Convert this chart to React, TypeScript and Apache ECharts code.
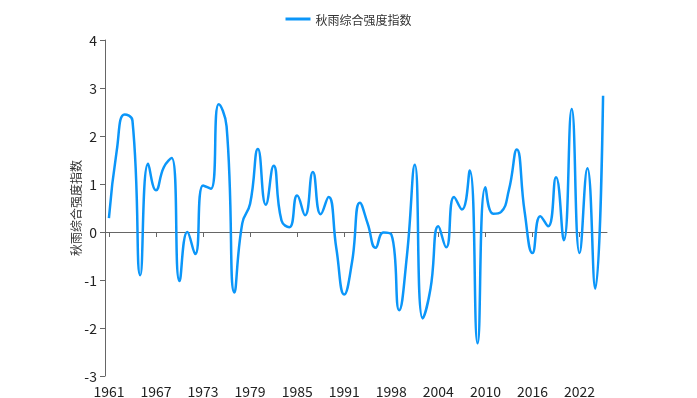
import React, { useEffect, useRef } from "react";
import * as echarts from "echarts";

const years: string[] = [
  "1961", "1962", "1963", "1964", "1965", "1966", "1967", "1968", "1969", "1970",
  "1971", "1972", "1973", "1974", "1975", "1976", "1977", "1978", "1979", "1980",
  "1981", "1982", "1983", "1984", "1985", "1986", "1987", "1988", "1989", "1990",
  "1991", "1992", "1993", "1995", "1996", "1997", "1998", "1999", "2000", "2001",
  "2002", "2003", "2004", "2005", "2006", "2007", "2008", "2009", "2010", "2011",
  "2012", "2013", "2014", "2015", "2016", "2017", "2018", "2019", "2020", "2021",
  "2022", "2023", "2024", "2025",
];

const rainIndex: number[] = [
  0.29, 1.7, 2.45, 2.32, -0.9, 1.42, 0.87, 1.35, 1.54, -1.02,
  0.0, -0.46, 0.97, 0.9, 2.66, 2.2, -1.26, 0.18, 0.59, 1.73,
  0.57, 1.38, 0.24, 0.1, 0.76, 0.35, 1.25, 0.37, 0.73, -0.35,
  -1.3, -0.62, 0.61, 0.17, -0.33, -0.01, -0.05, -1.63, -0.48, 1.4,
  -1.8, -1.18, 0.12, -0.32, 0.73, 0.47, 1.28, -2.32, 0.93, 0.38,
  0.42, 0.88, 1.72, 0.42, -0.44, 0.33, 0.12, 1.14, -0.17, 2.56,
  -0.44, 1.33, -1.18, 2.84,
];

const seriesName = "秋雨综合强度指数";
const yMin = -3;
const yMax = 4;
const yInterval = 1;

const FONT = "'Noto Sans CJK SC', 'Noto Sans', sans-serif";
const LINE_COLOR = "#0b96f9";

export default function App() {
  const ref = useRef<HTMLDivElement>(null);

  useEffect(() => {
    if (!ref.current) return;
    const chart = echarts.init(ref.current, undefined, { renderer: "svg" });
    chart.setOption({
      animation: false,
      textStyle: { fontFamily: FONT },
      legend: {
        top: 8,
        left: "center",
        icon: "rect",
        itemWidth: 25,
        itemHeight: 3,
        itemGap: 10,
        textStyle: { fontSize: 12, color: "#333", fontFamily: FONT },
        data: [seriesName],
      },
      grid: { left: 105, right: 90, top: 40, bottom: 21, containLabel: false },
      xAxis: [
        {
          type: "category",
          data: years,
          boundaryGap: true,
          position: "bottom",
          axisLine: { show: false, onZero: false },
          axisTick: { show: false },
          splitLine: { show: false },
          axisLabel: {
            interval: 5,
            fontSize: 14,
            color: "#222",
            margin: 8,
            fontFamily: FONT,
          },
        },
        {
          type: "category",
          data: years,
          boundaryGap: true,
          position: "bottom",
          axisLine: { show: true, onZero: true, lineStyle: { color: "#666", width: 1 } },
          axisTick: { show: true, alignWithLabel: true, interval: 5, length: 5, lineStyle: { color: "#666" } },
          axisLabel: { show: false, interval: 5 },
          splitLine: { show: false },
        },
      ],
      yAxis: {
        type: "value",
        min: yMin,
        max: yMax,
        interval: yInterval,
        name: seriesName,
        nameLocation: "middle",
        nameGap: 24,
        nameMoveOverlap: false,
        nameTextStyle: { fontSize: 12, color: "#333", fontFamily: FONT },
        axisLine: { show: true, lineStyle: { color: "#666", width: 1 } },
        axisTick: { show: true, length: 5, lineStyle: { color: "#666" } },
        splitLine: { show: false },
        axisLabel: { fontSize: 14, color: "#222", margin: 8, fontFamily: FONT },
      },
      series: [
        {
          name: seriesName,
          type: "line",
          xAxisIndex: 0,
          data: rainIndex,
          smooth: true,
          symbol: "none",
          lineStyle: { color: LINE_COLOR, width: 2.5 },
          itemStyle: { color: LINE_COLOR },
        },
      ],
    });
    return () => chart.dispose();
  }, []);

  return (
    <div
      ref={ref}
      style={{ position: "fixed", left: 0, top: 0, width: 697, height: 398 }}
    />
  );
}
